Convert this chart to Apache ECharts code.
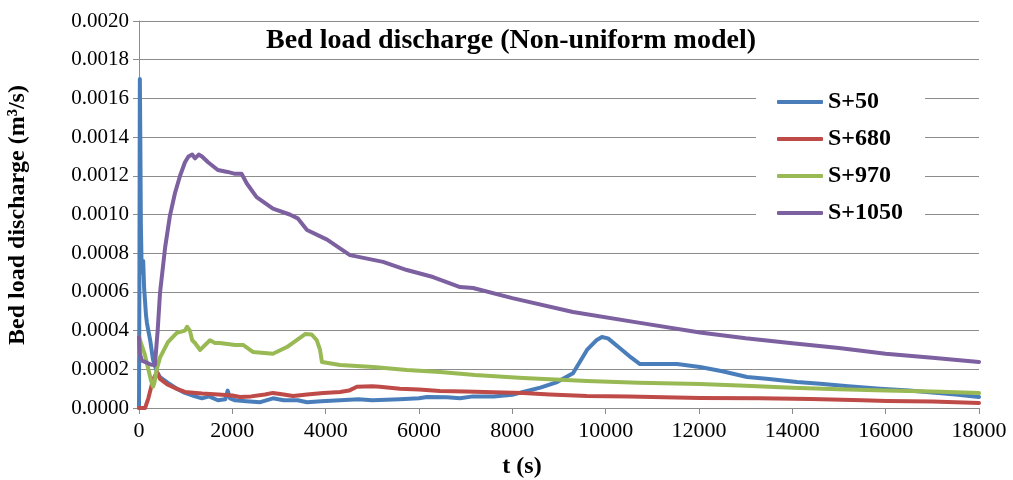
<!DOCTYPE html>
<html>
<head>
<meta charset="utf-8">
<script src="https://cdn.jsdelivr.net/npm/echarts@6/dist/echarts.min.js"></script>
<style>
  html, body { margin: 0; padding: 0; background: #fff; }
  #chart { width: 1013px; height: 480px; }
</style>
</head>
<body>
<div id="chart"></div>
<script>
// Bed load discharge time series at four stations (t in s, q in m³/s)
const tS50 = [0, 8, 18, 28, 40, 55, 70, 90, 110, 130, 150, 170, 200, 240, 300, 385, 450, 620, 810, 985, 1200, 1350, 1500, 1690, 1850, 1900, 1950, 2060, 2300, 2600, 2870, 3100, 3400, 3600, 3900, 4310, 4700, 5000, 5590, 6000, 6170, 6600, 6880, 7160, 7600, 8000, 8230, 8600, 8960, 9300, 9600, 9800, 9920, 10050, 10300, 10550, 10735, 11000, 11530, 12020, 12500, 13030, 13500, 14100, 14600, 15200, 15880, 16500, 17000, 17500, 18000];
const qS50 = [0, 0.0006, 0.0017, 0.0014, 0.00095, 0.00075, 0.0007, 0.00076, 0.00062, 0.00055, 0.00048, 0.00044, 0.0004, 0.00035, 0.00025, 0.000186, 0.00016, 0.00013, 0.0001, 0.000078, 0.00006, 0.00005, 0.00006, 0.00004, 0.000045, 0.00009, 0.00005, 0.00004, 0.000035, 0.00003, 0.00005, 0.00004, 0.00004, 0.00003, 0.000035, 0.00004, 0.000045, 0.00004, 0.000045, 0.00005, 0.000057, 0.000055, 0.00005, 0.00006, 0.00006, 0.000068, 0.000083, 0.000105, 0.000134, 0.00018, 0.0003, 0.00035, 0.000367, 0.00036, 0.00031, 0.00026, 0.000227, 0.000228, 0.000227, 0.000212, 0.00019, 0.00016, 0.00015, 0.000134, 0.000125, 0.000113, 0.0001, 0.00009, 0.00008, 0.00007, 0.000057];

const tS680 = [0, 130, 200, 300, 385, 450, 620, 800, 985, 1350, 1700, 2000, 2165, 2400, 2700, 2870, 3100, 3300, 3600, 3950, 4310, 4500, 4670, 5000, 5160, 5590, 6000, 6450, 7000, 7600, 8230, 8800, 9600, 10500, 11000, 12020, 13300, 14400, 15500, 16030, 17000, 17500, 18000];
const qS680 = [0, 0, 0.00005, 0.000145, 0.000186, 0.00015, 0.00012, 0.0001, 0.000083, 0.000075, 0.00007, 0.000065, 0.000057, 0.00006, 0.00007, 0.000078, 0.00007, 0.000062, 0.00007, 0.000078, 0.000083, 0.00009, 0.00011, 0.000112, 0.00011, 0.0001, 0.000095, 0.000088, 0.000085, 0.000082, 0.000078, 0.00007, 0.000062, 0.00006, 0.000057, 0.000052, 0.00005, 0.000047, 0.00004, 0.000036, 0.000033, 0.00003, 0.000026];

const tS970 = [0, 50, 120, 200, 260, 300, 330, 380, 450, 620, 810, 985, 1030, 1090, 1140, 1200, 1310, 1350, 1520, 1630, 1735, 2060, 2230, 2440, 2870, 3170, 3560, 3700, 3810, 3880, 3920, 4310, 5020, 5740, 6450, 7200, 8230, 9600, 10700, 12020, 13000, 14000, 15000, 16000, 17000, 18000];
const qS970 = [0.000367, 0.00033, 0.00028, 0.0002, 0.00014, 0.00011, 0.00013, 0.0002, 0.00026, 0.00034, 0.000388, 0.0004, 0.00042, 0.0004, 0.00035, 0.000336, 0.0003, 0.00031, 0.00035, 0.000336, 0.000336, 0.000326, 0.000326, 0.00029, 0.00028, 0.000315, 0.000382, 0.00038, 0.00035, 0.0003, 0.000238, 0.000222, 0.000212, 0.000196, 0.000186, 0.00017, 0.000155, 0.00014, 0.00013, 0.000124, 0.000115, 0.000105, 0.000097, 0.00009, 0.000085, 0.000077];

const tS1050 = [0, 20, 60, 130, 250, 340, 400, 450, 560, 660, 770, 880, 985, 1060, 1140, 1200, 1280, 1350, 1480, 1690, 1900, 2060, 2200, 2310, 2520, 2870, 3230, 3400, 3600, 4030, 4520, 5230, 5740, 6300, 6880, 7160, 8000, 9300, 10735, 12020, 13000, 14000, 15000, 16000, 17000, 18000];
const qS1050 = [0.000367, 0.00028, 0.000245, 0.000238, 0.000225, 0.000222, 0.0004, 0.000594, 0.00083, 0.00099, 0.00111, 0.0012, 0.00127, 0.0013, 0.00131, 0.00129, 0.00131, 0.0013, 0.00127, 0.00123, 0.00122, 0.00121, 0.00121, 0.00116, 0.00109, 0.00103, 0.001, 0.00098, 0.00092, 0.00087, 0.00079, 0.000755, 0.000713, 0.000677, 0.000625, 0.00062, 0.000568, 0.000496, 0.00044, 0.00039, 0.00036, 0.000335, 0.00031, 0.00028, 0.00026, 0.000238];

const seriesNames = ['S+50', 'S+680', 'S+970', 'S+1050'];
const seriesColors = ['#4A7EBB', '#BE4B48', '#98B954', '#7D60A0'];
const seriesT = [tS50, tS680, tS970, tS1050];
const seriesQ = [qS50, qS680, qS970, qS1050];

const FONT = '"Liberation Serif", "Times New Roman", serif';
const GRID_GRAY = '#8c8c8c';

const pairs = (ts, qs) => ts.map((t, i) => [t, qs[i]]);

const chart = echarts.init(document.getElementById('chart'), null, { renderer: 'canvas' });

chart.setOption({
  animation: false,
  backgroundColor: '#ffffff',
  textStyle: { fontFamily: FONT },
  grid: { left: 139, right: 34, top: 21, bottom: 72, containLabel: false },
  xAxis: {
    type: 'value',
    min: 0,
    max: 18000,
    interval: 2000,
    axisLine: { show: true, lineStyle: { color: GRID_GRAY, width: 1 } },
    axisTick: { show: true, inside: false, length: 6, lineStyle: { color: GRID_GRAY } },
    axisLabel: {
      color: '#000', fontFamily: FONT, fontSize: 22, margin: 12,
      formatter: v => String(v)
    },
    splitLine: { show: false }
  },
  yAxis: {
    type: 'value',
    min: 0,
    max: 0.002,
    interval: 0.0002,
    axisLine: { show: true, lineStyle: { color: GRID_GRAY, width: 1 } },
    axisTick: { show: true, inside: false, length: 6, lineStyle: { color: GRID_GRAY } },
    axisLabel: {
      color: '#000', fontFamily: FONT, fontSize: 21, margin: 10,
      formatter: v => v.toFixed(4)
    },
    splitLine: { show: true, lineStyle: { color: GRID_GRAY, width: 1 } }
  },
  legend: {
    orient: 'vertical',
    left: 756,
    top: 80,
    padding: [10, 22, 10, 21],
    itemGap: 13,
    itemWidth: 46,
    itemHeight: 4,
    icon: 'roundRect',
    backgroundColor: '#ffffff',
    textStyle: { color: '#000', fontFamily: FONT, fontSize: 24, fontWeight: 'bold' },
    data: seriesNames
  },
  graphic: [
    {
      type: 'text',
      x: 511, y: 41,
      style: {
        text: 'Bed load discharge (Non-uniform model)',
        fontFamily: FONT, fontSize: 28, fontWeight: 'bold', fill: '#000',
        textAlign: 'center', textVerticalAlign: 'middle'
      }
    },
    {
      type: 'text',
      x: 522, y: 467,
      style: {
        text: 't (s)',
        fontFamily: FONT, fontSize: 24, fontWeight: 'bold', fill: '#000',
        textAlign: 'center', textVerticalAlign: 'middle'
      }
    },
    {
      type: 'text',
      x: 18, y: 215,
      rotation: Math.PI / 2,
      style: {
        text: 'Bed load discharge (m³/s)',
        fontFamily: FONT, fontSize: 24, fontWeight: 'bold', fill: '#000',
        textAlign: 'center', textVerticalAlign: 'middle'
      }
    }
  ],
  series: seriesNames.map((name, i) => ({
    name,
    type: 'line',
    data: pairs(seriesT[i], seriesQ[i]),
    showSymbol: false,
    symbol: 'none',
    smooth: false,
    color: seriesColors[i],
    lineStyle: { color: seriesColors[i], width: 4, cap: 'round', join: 'round' },
    z: 2 + i
  }))
});
</script>
</body>
</html>
